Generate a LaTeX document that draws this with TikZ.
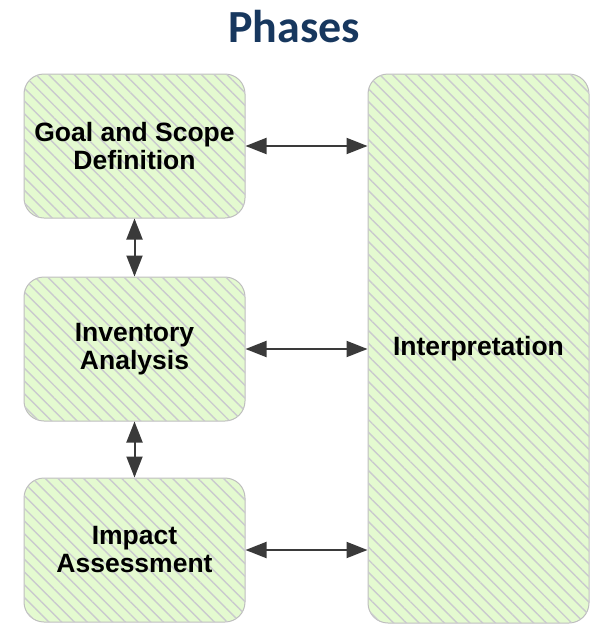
\documentclass[tikz,border=0pt]{standalone}
\usepackage{fontspec}
\setmainfont{Liberation Sans}
\newfontfamily\titlefont{Carlito}
\usetikzlibrary{arrows.meta,patterns.meta}

\definecolor{phasefill}{RGB}{228,250,208}
\definecolor{hatch}{RGB}{202,202,206}
\definecolor{phaseedge}{RGB}{190,190,190}
\definecolor{arrowgray}{RGB}{58,58,58}
\definecolor{titleblue}{RGB}{23,55,94}

\tikzset{
  phase/.style={draw=phaseedge,line width=1pt,fill=phasefill,rounded corners=20pt,
    postaction={pattern={Lines[angle=-45,distance=9pt,line width=1.4pt]},pattern color=hatch},
    align=center,font=\bfseries\fontsize{26.5}{28}\selectfont,
    minimum width=221pt,inner sep=0pt},
  link/.style={arrowgray,line width=2pt,{Triangle[length=21pt,width=16pt]}-{Triangle[length=21pt,width=16pt]}}
}

\begin{document}
\begin{tikzpicture}[x=1pt,y=-1pt]
      \useasboundingbox (0,0) rectangle (592,624);
      \node[font=\titlefont\bfseries\fontsize{46}{46}\selectfont,text=titleblue,anchor=base] (title) at (294,42) {Phases};
      \draw
        (134.5,146) node[phase,minimum height=144pt] (goal){Goal and Scope\\Definition}
        (134.5,349) node[phase,minimum height=144pt] (inventory){Inventory\\Analysis}
        (134.5,550) node[phase,minimum height=144pt] (impact){Impact\\Assessment}
        (478.5,348.5) node[phase,minimum height=549pt] (interp){Interpretation};
      \begin{scope}[link]
        \draw (goal.east) -- (interp.west |- goal.east);
        \draw (inventory.east) -- (interp.west |- inventory.east);
        \draw (impact.east) -- (interp.west |- impact.east);
        \draw (goal.south) -- (inventory.north);
        \draw (inventory.south) -- (impact.north);
      \end{scope}
    \end{tikzpicture}
\end{document}
